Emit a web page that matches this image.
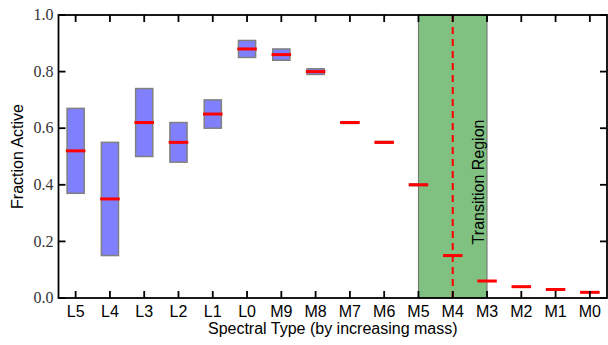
<!DOCTYPE html>
<html>
<head>
<meta charset="utf-8">
<script src="https://cdn.jsdelivr.net/npm/d3@7"></script>
<style>
  body { margin: 0; background: #fff; }
</style>
</head>
<body>
<div id="chart"></div>
<script>
const types = ["L5", "L4", "L3", "L2", "L1", "L0", "M9", "M8", "M7", "M6", "M5", "M4", "M3", "M2", "M1", "M0"];
const fraction = [0.52, 0.35, 0.62, 0.55, 0.65, 0.88, 0.86, 0.80, 0.62, 0.55, 0.40, 0.15, 0.06, 0.04, 0.03, 0.02];
const lower = [0.37, 0.15, 0.50, 0.48, 0.60, 0.85, 0.84, 0.79, 0.617, 0.547, 0.397, 0.15, 0.06, 0.04, 0.03, 0.02];
const upper = [0.67, 0.55, 0.74, 0.62, 0.70, 0.91, 0.88, 0.81, 0.623, 0.553, 0.403, 0.15, 0.06, 0.04, 0.03, 0.02];
const yTicks = [0.0, 0.2, 0.4, 0.6, 0.8, 1.0];
const transition = { from: "M5", mid: "M4", to: "M3" };

const width = 608;
const height = 345;
const margin = { t: 15, r: 1, b: 47, l: 58.5 };
const tickLen = 7;

const svg = d3
  .select("#chart")
  .append("svg")
  .attr("width", width)
  .attr("height", height);

const x = d3
  .scalePoint()
  .domain(types)
  .range([margin.l, width - margin.r])
  .padding(0.5);

const y = d3
  .scaleLinear()
  .domain([0, 1])
  .range([height - margin.b, margin.t]);

const step = x.step();
const boxW = step * 0.5;
const lineW = step * 0.57;

// transition region
svg
  .append("rect")
  .attr("x", x(transition.from))
  .attr("y", y(1))
  .attr("width", x(transition.to) - x(transition.from))
  .attr("height", y(0) - y(1))
  .attr("fill", "#80c080")
  .attr("stroke", "#6e6e6e")
  .attr("stroke-width", 1);

svg
  .append("line")
  .attr("x1", x(transition.mid))
  .attr("x2", x(transition.mid))
  .attr("y1", y(0))
  .attr("y2", y(1))
  .attr("stroke", "#ff0000")
  .attr("stroke-width", 2)
  .attr("stroke-dasharray", "7,5");

svg
  .append("text")
  .attr("transform", `translate(${x(transition.mid) + 31}, ${y(0.41)}) rotate(-90)`)
  .attr("text-anchor", "middle")
  .attr("font-family", "Liberation Sans, Arial, sans-serif")
  .attr("font-size", "16px")
  .text("Transition Region");

const data = types.map((t, i) => ({ type: t, v: fraction[i], lo: lower[i], hi: upper[i] }));

// boxes
svg
  .append("g")
  .selectAll("rect")
  .data(data.filter((d) => d.hi > d.lo))
  .enter()
  .append("rect")
  .attr("x", (d) => x(d.type) - boxW / 2)
  .attr("y", (d) => y(d.hi))
  .attr("width", boxW)
  .attr("height", (d) => y(d.lo) - y(d.hi))
  .attr("fill", "#8080ff")
  .attr("stroke", "#808080")
  .attr("stroke-width", 1.5);

// median lines
svg
  .append("g")
  .selectAll("line")
  .data(data)
  .enter()
  .append("line")
  .attr("x1", (d) => x(d.type) - lineW / 2)
  .attr("x2", (d) => x(d.type) + lineW / 2)
  .attr("y1", (d) => y(d.v))
  .attr("y2", (d) => y(d.v))
  .attr("stroke", "#ff0000")
  .attr("stroke-width", 3);

// axes, ticks inward
const x0 = margin.l;
const x1 = width - margin.r;
const y0 = y(0);
const y1 = y(1);

const ax = svg.append("g").attr("stroke", "#000").attr("stroke-width", 1.8);

ax.append("rect")
  .attr("x", x0)
  .attr("y", y1)
  .attr("width", x1 - x0)
  .attr("height", y0 - y1)
  .attr("fill", "none");

ax.selectAll(".xb")
  .data(types)
  .enter()
  .append("line")
  .attr("x1", (d) => x(d))
  .attr("x2", (d) => x(d))
  .attr("y1", y0)
  .attr("y2", y0 - tickLen);

ax.selectAll(".xt")
  .data(types)
  .enter()
  .append("line")
  .attr("x1", (d) => x(d))
  .attr("x2", (d) => x(d))
  .attr("y1", y1)
  .attr("y2", y1 + tickLen);

ax.selectAll(".yl")
  .data(yTicks)
  .enter()
  .append("line")
  .attr("x1", x0)
  .attr("x2", x0 + tickLen)
  .attr("y1", (d) => y(d))
  .attr("y2", (d) => y(d));

ax.selectAll(".yr")
  .data(yTicks)
  .enter()
  .append("line")
  .attr("x1", x1)
  .attr("x2", x1 - tickLen)
  .attr("y1", (d) => y(d))
  .attr("y2", (d) => y(d));

svg
  .append("g")
  .selectAll("text")
  .data(types)
  .enter()
  .append("text")
  .attr("x", (d) => x(d))
  .attr("y", y0 + 19)
  .attr("text-anchor", "middle")
  .attr("font-family", "Liberation Sans, Arial, sans-serif")
  .attr("font-size", "16px")
  .text((d) => d);

svg
  .append("g")
  .selectAll("text")
  .data(yTicks)
  .enter()
  .append("text")
  .attr("x", x0 - 5)
  .attr("y", (d) => y(d))
  .attr("dy", "0.33em")
  .attr("text-anchor", "end")
  .attr("font-family", "Liberation Serif, serif")
  .attr("font-size", "16px")
  .attr("fill", "#333")
  .text((d) => d.toFixed(1));

svg
  .append("text")
  .attr("x", (x0 + x1) / 2)
  .attr("y", 334)
  .attr("text-anchor", "middle")
  .attr("font-family", "Liberation Sans, Arial, sans-serif")
  .attr("font-size", "16px")
  .text("Spectral Type (by increasing mass)");

svg
  .append("text")
  .attr("transform", `translate(23, ${(y0 + y1) / 2}) rotate(-90)`)
  .attr("text-anchor", "middle")
  .attr("font-family", "Liberation Sans, Arial, sans-serif")
  .attr("font-size", "16px")
  .text("Fraction Active");
</script>
</body>
</html>
